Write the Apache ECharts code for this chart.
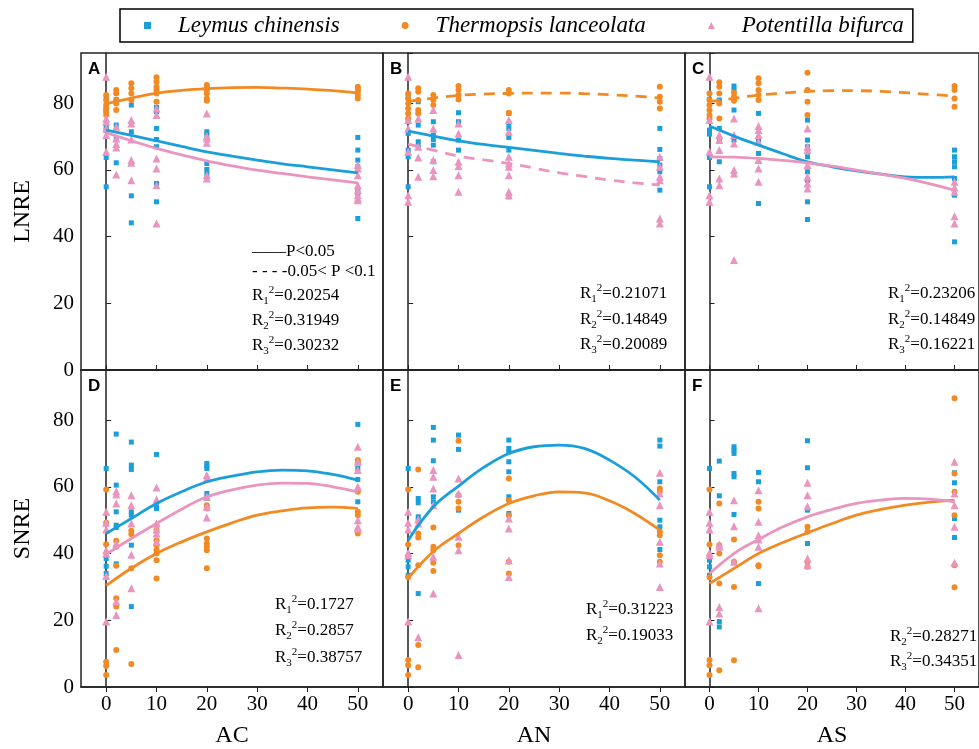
<!DOCTYPE html>
<html>
<head>
<meta charset="utf-8">
<title>LNRE / SNRE</title>
<script src="https://cdn.jsdelivr.net/npm/echarts@6/dist/echarts.min.js"></script>
<style>
  html, body { margin: 0; padding: 0; background: #fff; }
  #chart { width: 979px; height: 749px; }
</style>
</head>
<body>
<div id="chart"></div>
<script>
// treatment levels on the x axis, and x where the fitted curves were read
var xLevels = [0, 2, 5, 10, 20, 50];
var fitX = [0, 5, 10, 15, 20, 25, 30, 35, 40, 45, 50];
var xTicks = [0, 10, 20, 30, 40, 50];
var species = ['Leymus chinensis', 'Thermopsis lanceolata', 'Potentilla bifurca'];

// ---- A: LNRE ~ AC (one list of values per x level)
var lnAC_lc = [[81.4, 77.9, 73, 71.9, 63.7, 54.9], [81, 73.4, 69.1, 62.1], [79.4, 71.4, 52.2, 44.1],
  [78.7, 77.4, 72.4, 69.1, 66.9, 55.9, 55.4, 50.4], [71.4, 70.4, 61.9, 60.1, 58.7], [69.7, 65.9, 62.9, 60.9, 53.9, 52.9, 45.4]];
var lnAC_tl = [[82.4, 80.9, 79.4, 78.4, 77.4, 76.4], [83.9, 82.9, 80.9, 79.9, 77.9], [85.9, 84.4, 82.9, 80.9],
  [87.7, 86.4, 84.9, 83.9, 82.9, 80.4], [85.4, 84.7, 83.9, 82.9, 81.4, 80.7], [84.9, 84.1, 83.4, 82.4, 81.4]];
var lnAC_pb = [[87.9, 75.4, 74.4, 72.4, 70.4, 65.4], [72.9, 69.4, 67.7, 66.7, 58.6], [74.9, 73.9, 69.1, 62.9, 62.1, 56.9],
  [78.4, 76.4, 63.4, 60.4, 55.4, 43.9], [76.9, 70.1, 69.4, 68.1, 58.4, 57.4], [61.4, 60.4, 58.4, 55.4, 53.9, 52.4, 51.4, 50.9]];
var fitA_lc = [71.9, 70.3, 68.7, 67.0, 65.4, 64.1, 62.9, 61.8, 60.9, 60.0, 59.1];
var fitA_tl = [79.8, 81.5, 83.0, 83.8, 84.3, 84.6, 84.7, 84.5, 84.2, 83.7, 83.0];
var fitA_pb = [71.1, 68.7, 66.4, 64.5, 62.7, 61.2, 59.9, 58.9, 57.9, 57.0, 56.1];

// ---- B: LNRE ~ AN
var lnAN_lc = [[81.9, 74.4, 70.9, 65.9, 63.9, 54.9], [80.4, 73.4, 68.4, 66.9], [74.4, 70.4, 69.1, 67.4, 62.4],
  [77.1, 74.4, 68.9, 65.9], [76.9, 73.9, 72.4, 69.7, 65.9, 51.9], [72.4, 66.1, 63.4, 61.4, 59.4, 53.9]];
var lnAN_tl = [[82.9, 81.4, 79.9, 78.4, 76.9, 75.4], [84.4, 83.4, 80.9, 77.9, 76.9], [82.4, 80.9, 79.4],
  [85.1, 83.9, 82.4, 81.1], [83.9, 82.9, 77.1], [84.9, 81.9, 80.4, 78.4]];
var lnAN_pb = [[87.9, 74.9, 72.4, 65.4, 52.4, 50.4], [75.4, 66.9, 63.7, 57.9], [77.9, 72.4, 62.9, 59.9, 58.1],
  [73.9, 70.9, 62.4, 61.1, 58.4, 53.4], [74.9, 71.4, 63.9, 61.9, 60.9, 58.4, 53.4, 52.4], [63.9, 60.9, 57.9, 56.9, 45.4, 43.9]];
var fitB_lc = [71.6, 70.1, 68.7, 67.6, 66.7, 65.8, 64.9, 64.1, 63.4, 62.9, 62.4];
var fitB_tl = [80.5, 81.5, 82.3, 82.7, 82.9, 83.0, 83.0, 82.8, 82.5, 82.1, 81.5];
var fitB_pb = [67.7, 65.9, 64.1, 63.0, 61.9, 60.5, 59.1, 58.0, 56.9, 56.1, 55.4];

// ---- C: LNRE ~ AS
var lnAS_lc = [[81.1, 71.9, 70.7, 63.7, 54.9], [80.9, 72.4, 69.4, 62.4], [85.1, 83.9, 77.9, 68.9],
  [76.9, 68.9, 64.9, 49.9], [74.9, 68.9, 66.9, 63.9, 59.4, 56.9, 50.4, 45.1], [65.9, 63.9, 62.4, 60.9, 57.4, 52.4, 38.4]];
var lnAS_tl = [[82.9, 80.9, 79.4, 77.9, 76.4, 75.4], [86.2, 84.9, 82.9, 79.9, 75.4], [83.1, 81.9, 80.7],
  [87.4, 85.9, 83.9, 82.4, 80.9], [89.1, 83.9, 80.4, 76.4], [85.1, 83.9, 81.4, 78.9]];
var lnAS_pb = [[87.9, 74.9, 65.4, 52.4, 50.4], [70.4, 68.9, 65.9, 57.4, 55.4], [75.4, 70.4, 67.9, 59.9, 58.9, 33],
  [73.1, 71.9, 70.4, 68.4, 62.9, 60.4, 56.4], [72.4, 66.9, 65.9, 61.4, 57.9, 55.9, 54.4], [56.4, 54.7, 53.4, 46.1, 43.9]];
var fitC_lc = [73.1, 70.1, 67.4, 64.8, 62.4, 60.9, 59.7, 58.7, 57.9, 57.7, 57.9];
var fitC_tl = [80.4, 81.4, 82.4, 83.0, 83.5, 83.7, 83.7, 83.5, 83.1, 82.6, 82.1];
var fitC_pb = [63.9, 63.8, 63.4, 62.8, 62.1, 61.1, 59.9, 58.7, 57.4, 55.8, 53.9];

// ---- D: SNRE ~ AC
var snAC_lc = [[65.5, 38.5, 36.2, 34], [75.8, 60.5, 52.5, 48.5, 47.8, 36.9], [73.4, 66.5, 65.2, 52.5, 51.5, 42.5, 24.1],
  [69.7, 54, 53.5], [67, 66.2, 65.5, 58, 56.5], [78.7, 65.5, 62.2, 55.5]];
var snAC_tl = [[59.2, 49.2, 42.8, 7.6, 6.3, 3.6], [43.8, 42, 36.3, 26.6, 24.1, 11.1], [46.8, 45.8, 35.6, 6.9],
  [48.5, 47, 44, 42.5, 41, 40, 38, 32.5], [54.5, 53.5, 44.5, 43, 42, 41, 35.6], [68, 67.2, 58.5, 52.5, 51.5, 46]];
var snAC_pb = [[52.5, 49.2, 47.2, 41, 40, 33.3, 19.6], [58.7, 57.7, 55, 43, 25.6, 21.6], [57.5, 54.5, 49, 39.6, 29.6],
  [59.8, 56.2, 49, 47.2, 46, 43.5], [63.5, 62.5, 57, 54, 50.8], [72, 67.5, 65, 60, 50, 48, 47.5]];
var fitD_lc = [46, 50.5, 55, 58.5, 61.5, 63.2, 64.5, 65, 64.8, 63.7, 62];
var fitD_tl = [30.4, 35.6, 40, 43.5, 46.5, 49.2, 51.5, 52.8, 53.7, 53.9, 53.5];
var fitD_pb = [39.8, 44.5, 49, 53.3, 57, 59.1, 60.5, 61.1, 61, 60, 58.5];

// ---- E: SNRE ~ AN
var snAN_lc = [[65.5, 38, 36, 33.5], [56.5, 55.2, 51, 50, 28], [77.8, 74, 67.8, 57, 55.5],
  [75.5, 71.2, 53], [74, 71.5, 70.5, 67.5, 64.5, 57, 52], [74, 72.2, 61.5, 50, 48, 41.2]];
var snAN_tl = [[59.2, 42.7, 32.9, 8.1, 6.5, 3.6], [65.2, 46, 44.8, 36.5, 12.6, 5.9], [47.8, 42, 41, 37.2, 34.8],
  [73.8, 57.5, 55.5, 53.5, 42.5], [62.5, 56, 51.5, 37.5, 34], [59.5, 58.5, 46.5, 45.5, 39.5, 37.5]];
var snAN_pb = [[52.5, 49.2, 47.2, 40.2, 39.5, 19.6], [50.2, 49, 14.9], [65, 63, 59.5, 54.5, 39, 28],
  [62.5, 58, 45, 41, 9.6], [50.5, 47.5, 38, 33], [64.2, 58, 54.5, 43.5, 37, 30]];
var fitE_lc = [44, 54, 60.2, 65.8, 70, 72, 72.5, 71.5, 68, 63, 56];
var fitE_tl = [32.6, 40.6, 46, 51, 55, 57.3, 58.5, 58.2, 55.8, 52, 47];

// ---- F: SNRE ~ AS
var snAS_lc = [[65.5, 38, 36, 33.5], [67.7, 57.3, 19.6, 18], [72, 71, 70, 64, 63, 51.7],
  [64.3, 61.5, 31], [73.8, 65.7, 53, 43], [64.2, 61.2, 50.5, 44.8]];
var snAS_tl = [[59.2, 42.7, 32.9, 8.1, 6.5, 3.6], [55, 42.5, 40, 31, 5], [44.2, 37.5, 30, 8],
  [55.5, 53.5, 36.5, 36.2], [48, 46.5, 37.5, 36], [86.5, 64, 58.5, 51.5, 36.5, 29.9]];
var snAS_pb = [[52.5, 49.2, 47.2, 40.2, 39.5, 19.6], [42.7, 42, 24, 22], [56, 48.2, 37.5],
  [59, 49.5, 45.5, 44.2, 42, 23.6], [61.2, 57.5, 54.2, 38.5, 36.5], [67.5, 58, 54.5, 48, 37.2]];
var fitF_tl = [31, 35.5, 40, 43.3, 46.2, 49, 51.5, 53.2, 54.5, 55.4, 56];
var fitF_pb = [34, 40, 44.2, 48, 51, 53.2, 55, 56, 56.5, 56.3, 55.5];

var colors = ['#1a9fdb', '#f28a24', '#e995bf'];
var symbols = ['rect', 'circle', 'triangle'];
var symSizes = [5, 6, 8];
var serif = 'Liberation Serif, Times New Roman, serif';

var panels = [
  { tag: 'A', pts: [lnAC_lc, lnAC_tl, lnAC_pb], fits: [[fitA_lc, 'solid'], [fitA_tl, 'solid'], [fitA_pb, 'solid']],
    r: [[1, '0.20254'], [2, '0.31949'], [3, '0.30232']], rx: 252, ry: [296, 321, 346] },
  { tag: 'B', pts: [lnAN_lc, lnAN_tl, lnAN_pb], fits: [[fitB_lc, 'solid'], [fitB_tl, 'dashed'], [fitB_pb, 'dashed']],
    r: [[1, '0.21071'], [2, '0.14849'], [3, '0.20089']], rx: 580, ry: [294, 320, 345] },
  { tag: 'C', pts: [lnAS_lc, lnAS_tl, lnAS_pb], fits: [[fitC_lc, 'solid'], [fitC_tl, 'dashed'], [fitC_pb, 'solid']],
    r: [[1, '0.23206'], [2, '0.14849'], [3, '0.16221']], rx: 888, ry: [294, 320, 345] },
  { tag: 'D', pts: [snAC_lc, snAC_tl, snAC_pb], fits: [[fitD_lc, 'solid'], [fitD_tl, 'solid'], [fitD_pb, 'solid']],
    r: [[1, '0.1727'], [2, '0.2857'], [3, '0.38757']], rx: 275, ry: [605, 631, 658] },
  { tag: 'E', pts: [snAN_lc, snAN_tl, snAN_pb], fits: [[fitE_lc, 'solid'], [fitE_tl, 'solid'], null],
    r: [[1, '0.31223'], [2, '0.19033']], rx: 586, ry: [610, 636] },
  { tag: 'F', pts: [snAS_lc, snAS_tl, snAS_pb], fits: [null, [fitF_tl, 'solid'], [fitF_pb, 'solid']],
    r: [[2, '0.28271'], [3, '0.34351']], rx: 890, ry: [637, 662] }
];

function toPoints(cols) {
  var out = [];
  cols.forEach(function (vals, i) {
    vals.forEach(function (v) { out.push([xLevels[i], v]); });
  });
  return out;
}
function fitPoints(vals) {
  return fitX.map(function (x, k) { return [x, vals[k]]; });
}

var grids = [], xAxes = [], yAxes = [], series = [], graphics = [];
var rRich = {
  r: { fontSize: 17, fontFamily: serif, fill: '#000', lineHeight: 22 },
  b: { fontSize: 11, fontFamily: serif, fill: '#000', lineHeight: 11, verticalAlign: 'bottom' },
  t: { fontSize: 11, fontFamily: serif, fill: '#000', lineHeight: 11, verticalAlign: 'top' }
};

panels.forEach(function (p, i) {
  var row = Math.floor(i / 3), col = i % 3;
  var left = 81 + col * 302, top = 53 + row * 317;
  grids.push({ left: left, top: top, width: 302, height: 317, show: true,
    borderColor: '#222', borderWidth: 1.5, backgroundColor: 'transparent' });
  xAxes.push({
    gridIndex: i, type: 'value', min: -5, max: 55,
    name: row === 1 ? ['AC', 'AN', 'AS'][col] : '',
    nameLocation: 'middle', nameGap: 37,
    nameTextStyle: { fontFamily: serif, fontSize: 24, color: '#000' },
    axisLine: { show: true, onZero: false, lineStyle: { color: '#222', width: 1.5 } },
    axisTick: { show: true, inside: row === 0, length: 5, customValues: xTicks, lineStyle: { color: '#222' } },
    axisLabel: { show: row === 1, customValues: xTicks, fontFamily: serif, fontSize: 21, color: '#000', margin: 7 },
    splitLine: { show: false }
  });
  yAxes.push({
    gridIndex: i, type: 'value', min: 0, max: 95, interval: 20,
    name: col === 0 ? (row === 0 ? 'LNRE' : 'SNRE') : '',
    nameLocation: 'middle', nameGap: 46,
    nameTextStyle: { fontFamily: serif, fontSize: 24, color: '#000' },
    axisLine: { show: true, lineStyle: { color: '#222', width: 1.5 } },
    axisTick: { show: true, inside: true, length: 5, lineStyle: { color: '#222' } },
    axisLabel: { show: col === 0, showMaxLabel: false, fontFamily: serif, fontSize: 21, color: '#000', margin: 7 },
    splitLine: { show: false }
  });
  p.pts.forEach(function (cols, s) {
    series.push({
      name: species[s], type: 'scatter', xAxisIndex: i, yAxisIndex: i,
      symbol: symbols[s], symbolSize: symSizes[s], itemStyle: { color: colors[s], opacity: 1 },
      data: toPoints(cols), z: 2
    });
  });
  p.fits.forEach(function (f, s) {
    if (!f) return;
    series.push({
      name: species[s], type: 'line', xAxisIndex: i, yAxisIndex: i,
      showSymbol: false, smooth: 0.4, data: fitPoints(f[0]), z: 3,
      itemStyle: { color: colors[s] },
      lineStyle: { color: colors[s], width: 2.8, type: f[1] === 'dashed' ? [11, 8] : 'solid' }
    });
  });
  graphics.push({ type: 'text', x: left + 7, y: top + 16,
    style: { text: p.tag, font: 'bold 17px Liberation Sans, Arial, sans-serif', fill: '#000', verticalAlign: 'middle' } });
  p.r.forEach(function (r, k) {
    graphics.push({ type: 'text', x: p.rx, y: p.ry[k],
      style: { text: '{r|R}{b|' + r[0] + '}{t|2}{r|=' + r[1] + '}', rich: rRich, verticalAlign: 'middle' } });
  });
});

// significance key in panel A
graphics.push({ type: 'text', x: 252, y: 252,
  style: { text: '\u2014\u2014P<0.05', font: '17px ' + serif, fill: '#000', verticalAlign: 'middle' } });
graphics.push({ type: 'text', x: 252, y: 272,
  style: { text: '- - - -0.05< P <0.1', font: '17px ' + serif, fill: '#000', verticalAlign: 'middle' } });

var chart = echarts.init(document.getElementById('chart'));
chart.setOption({
  animation: false,
  backgroundColor: '#fff',
  legend: {
    left: 120, top: 9,
    borderColor: '#000', borderWidth: 1.5,
    padding: [5, 9, 5, 24],
    itemWidth: 7, itemHeight: 7, itemGap: 62,
    formatter: function (n) { return '{g|}{n|' + n + '}'; },
    textStyle: {
      rich: {
        g: { width: 22 },
        n: { fontFamily: serif, fontStyle: 'italic', fontSize: 23, color: '#000' }
      }
    },
    data: [
      { name: species[0], icon: 'rect' },
      { name: species[1], icon: 'circle' },
      { name: species[2], icon: 'triangle' }
    ]
  },
  grid: grids,
  xAxis: xAxes,
  yAxis: yAxes,
  series: series,
  graphic: graphics
});
</script>
</body>
</html>
